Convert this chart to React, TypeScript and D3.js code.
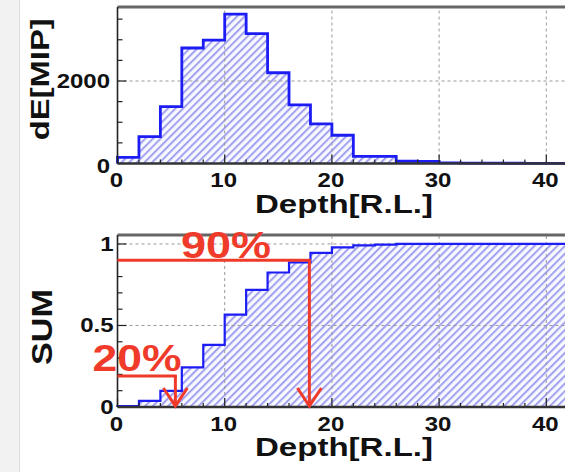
import React, { useEffect } from "react";
import * as d3 from "d3";

// bin lower edges in radiation lengths (bin width 2)
const binStarts = [0, 2, 4, 6, 8, 10, 12, 14, 16, 18, 20, 22, 24, 26, 28, 30, 32, 34, 36, 38, 40, 42, 44, 46, 48];
// energy deposit per bin, dE[MIP]
const dEValues = [150, 650, 1380, 2800, 2990, 3620, 3150, 2200, 1420, 960, 685, 175, 175, 55, 50, 15, 10, 8, 6, 5, 4, 3, 3, 2, 2];
// cumulative fraction per bin
const sumValues = [0.006, 0.037, 0.099, 0.243, 0.381, 0.567, 0.718, 0.825, 0.887, 0.945, 0.979, 0.991, 0.996, 1, 1, 1, 1, 1, 1, 1, 1, 1, 1, 1, 1];

const xTicks = [0, 10, 20, 30, 40];
const topYTicks = [0, 2000];
const botYTicks = [0, 0.5, 1];

// containment markers: level, depth, label
const markLevels = [0.9, 0.19];
const markDepths = [17.9, 5.4];
const markLabels = ["90%", "20%"];

const W = 565;
const H = 472;
const BIN = 2;
const font = "'Liberation Sans', Arial, Helvetica, sans-serif";
const blue = "#1c1cf5";
const red = "#f03a2a";

const x = d3.scaleLinear().domain([0, 50]).range([117.5, 653.5]);
const yTop = d3.scaleLinear().domain([0, 3794]).range([163.5, 7]);
const yBot = d3.scaleLinear().domain([0, 1.055]).range([407, 235]);

type Pt = { x: number; v: number };
const toPts = (vals: number[]): Pt[] => {
  const pts = binStarts.map((b, i) => ({ x: b, v: vals[i] }));
  pts.push({ x: binStarts[binStarts.length - 1] + BIN, v: vals[vals.length - 1] });
  return pts;
};

function Panel({ values, y, yTicks, yLabels, minorStep, majorStep, labelRight, yZeroShift, title, titleLen, titleSize, titleX, lineW }: any) {
  const pts = toPts(values);
  const area = d3.area<Pt>().x((d) => x(d.x)).y0(y(0)).y1((d) => y(d.v)).curve(d3.curveStepAfter);
  const line = d3.line<Pt>().x((d) => x(d.x)).y((d) => y(d.v)).curve(d3.curveStepAfter);
  const [y0, y1] = y.range();
  const outline = `M${x(0)},${y(0)}L` + line(pts)!.slice(1) + `L${x(50)},${y(0)}`;
  const minors = d3.range(0, y.domain()[1], minorStep);
  const xMinors = d3.range(0, 50, 2);
  return (
    <g>
      <path d={area(pts)!} fill="url(#hatch)" />
      {/* grid */}
      {xTicks.filter((t) => t > 0).map((t) => (
        <line key={"gx" + t} x1={x(t)} x2={x(t)} y1={y0} y2={y1} stroke="#999" strokeDasharray="3,3" strokeWidth={1} />
      ))}
      {yTicks.filter((t: number) => t > 0).map((t: number) => (
        <line key={"gy" + t} x1={x(0)} x2={W} y1={y(t)} y2={y(t)} stroke="#999" strokeDasharray="3,3" strokeWidth={1} />
      ))}
      <path d={outline} fill="none" stroke={blue} strokeWidth={lineW} />
      {/* ticks */}
      {minors.map((t: number) => {
        const major = Math.abs(t / majorStep - Math.round(t / majorStep)) < 1e-6;
        return <line key={"ty" + t} x1={x(0)} x2={x(0) + (major ? 9 : 5)} y1={y(t)} y2={y(t)} stroke="#222" strokeWidth={1.2} />;
      })}
      {xMinors.map((t) => (
        <line key={"tx" + t} x1={x(t)} x2={x(t)} y1={y0} y2={y0 - (t % 10 === 0 ? 9 : 4)} stroke="#222" strokeWidth={1.2} />
      ))}
      {/* frame */}
      <line x1={x(0)} x2={W} y1={y1} y2={y1} stroke="#666" strokeWidth={3} />
      <line x1={x(0)} x2={W} y1={y0} y2={y0} stroke="#333" strokeWidth={2.4} />
      <line x1={x(0)} x2={x(0)} y1={y1} y2={y0} stroke="#222" strokeWidth={1.6} />
      {/* tick labels */}
      {yTicks.map((t: number, i: number) => (
        <text key={"ly" + t} transform={`translate(${labelRight},${y(t) + (t === 0 ? yZeroShift : 0)}) scale(1.2,1)`}
          textAnchor="end" dominantBaseline="central" fontFamily={font} fontWeight="bold" fontSize={20} fill="#111">
          {yLabels[i]}
        </text>
      ))}
      {xTicks.map((t) => (
        <text key={"lx" + t} transform={`translate(${x(t) - 1},${y0 + 23.5}) scale(1.2,1)`}
          textAnchor="middle" fontFamily={font} fontWeight="bold" fontSize={20} fill="#111">
          {t}
        </text>
      ))}
      <text x={344} y={y0 + 49} textAnchor="middle" fontFamily={font} fontWeight="bold" fontSize={25}
        textLength={178} lengthAdjust="spacingAndGlyphs" fill="#111">
        Depth[R.L.]
      </text>
      <text transform={`translate(${titleX},${(y0 + y1) / 2 + (title === "SUM" ? 6 : -6)}) rotate(-90)`} textAnchor="middle"
        fontFamily={font} fontWeight="bold" fontSize={titleSize} textLength={titleLen} lengthAdjust="spacingAndGlyphs" fill="#111">
        {title}
      </text>
    </g>
  );
}

export default function App() {
  useEffect(() => {
    document.body.style.margin = "0";
  }, []);
  const yb0 = yBot(0);
  return (
    <svg width={W} height={H} style={{ display: "block", background: "#fff" }}>
      <defs>
        <pattern id="hatch" patternUnits="userSpaceOnUse" width={5.4} height={5.4} patternTransform="rotate(45)">
          <rect width={5.4} height={5.4} fill="#f8f8ff" />
          <rect x={0} y={0} width={2} height={5.4} fill="#a2a2f0" />
        </pattern>
      </defs>
      <rect x={0} y={0} width={19.5} height={H} fill="#f2f2f2" />
      <line x1={19.5} x2={19.5} y1={0} y2={H} stroke="#dadada" strokeWidth={1} />

      <Panel values={dEValues} y={yTop} yTicks={topYTicks} yLabels={["0", "2000"]} minorStep={500} majorStep={2000}
        labelRight={110} yZeroShift={3} title="dE[MIP]" titleLen={122} titleSize={25} titleX={49} lineW={2.8} />
      <Panel values={sumValues} y={yBot} yTicks={botYTicks} yLabels={["0", "0.5", "1"]} minorStep={0.1} majorStep={0.5}
        labelRight={113.5} yZeroShift={0} title="SUM" titleLen={76} titleSize={29} titleX={52} lineW={2.2} />

      {/* containment markers */}
      {markLevels.map((lv, i) => {
        const xv = x(markDepths[i]);
        const yl = yBot(lv);
        return (
          <g key={"m" + i} stroke={red} strokeWidth={3} fill="none">
            <line x1={x(0)} x2={xv + 1.5} y1={yl} y2={yl} />
            <line x1={xv} x2={xv} y1={yl} y2={yb0 - 1} />
            <polyline points={`${xv - 12},${yb0 - 19} ${xv},${yb0 - 1} ${xv + 12},${yb0 - 19}`} strokeLinejoin="miter" />
          </g>
        );
      })}
      <text x={226} y={258} textAnchor="middle" fontFamily={font} fontWeight="bold" fontSize={36}
        textLength={90} lengthAdjust="spacingAndGlyphs" fill={red}>
        {markLabels[0]}
      </text>
      <text x={137} y={371} textAnchor="middle" fontFamily={font} fontWeight="bold" fontSize={36}
        textLength={89} lengthAdjust="spacingAndGlyphs" fill={red}>
        {markLabels[1]}
      </text>
    </svg>
  );
}
